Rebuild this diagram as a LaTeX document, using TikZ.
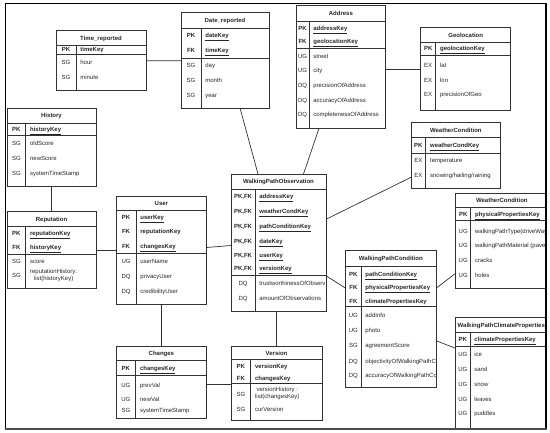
\documentclass[tikz,border=0pt]{standalone}
\usepackage{fontspec}
\setmainfont{Liberation Sans}
\usepackage{tikz}
\usetikzlibrary{calc,fit}
\tikzset{
  tbl/.style   ={draw=black!80,line width=0.7pt,inner sep=0pt,outer sep=0pt},
  sep/.style   ={draw=black!80,line width=0.7pt},
  rel/.style   ={draw=black!80,line width=0.7pt},
  hd/.style    ={inner sep=0pt,text height=4.4pt,text depth=0pt,text=black!85,font=\fontsize{6}{7}\selectfont\bfseries},
  lab/.style   ={inner sep=0pt,text height=4.4pt,text depth=0pt,text=black!85,font=\fontsize{6}{7}\selectfont},
  keylab/.style={lab,font=\fontsize{6}{7}\selectfont\bfseries},
  att/.style   ={lab,anchor=west},
  key/.style   ={keylab,anchor=west},
  att2/.style  ={inner sep=0pt,anchor=west,align=center,text=black!85,font=\fontsize{6}{7.6}\selectfont},
  frame/.style ={draw=black,line width=1pt},
}
\begin{document}
\begin{tikzpicture}[x=1pt,y=-1pt]
  \useasboundingbox (0,0) rectangle (550,433);
  \begin{scope}
  \clip (5,4) rectangle (546,429);
  % Time_reported
  \node[tbl,fit={(56,30.7) (146,90.7)}] (time) {};
  \draw[sep] (56,45) -- (146,45) (56,54) -- (146,54) (76,45) -- (76,90.7);
  \node[hd] (time-h) at (101,37.85) {Time\_reported};
  \node[keylab] (time-k1) at (66,49.6) {PK};
  \node[key] (time-a1) at (80.2,49.6) {\underline{timeKey}};
  \foreach \k/\a/\y [count=\i] in {SG/hour/62.3,SG/minute/77.7}{
    \node[lab] (time-l\i) at (66,\y) {\k};
    \node[att] (time-b\i) at (80.2,\y) {\a};
  }
  % Date_reported
  \node[tbl,fit={(181,12.7) (269,108)}] (date) {};
  \draw[sep] (181,28) -- (269,28) (181,58) -- (269,58) (201,28) -- (201,108);
  \node[hd] (date-h) at (225,20.35) {Date\_reported};
  \foreach \k/\a/\y [count=\i] in {PK/dateKey/35.6,FK/timeKey/50.6}{
    \node[keylab] (date-k\i) at (191,\y) {\k};
    \node[key] (date-a\i) at (205.2,\y) {\underline{\a}};
  }
  \foreach \k/\a/\y [count=\i] in {SG/day/65.7,SG/month/80.7,SG/year/95.7}{
    \node[lab] (date-l\i) at (191,\y) {\k};
    \node[att] (date-b\i) at (205.2,\y) {\a};
  }
  % Address
  \node[tbl,fit={(296,5.5) (385.7,128.3)}] (addr) {};
  \draw[sep] (296,21.7) -- (385.7,21.7) (296,48.3) -- (385.7,48.3) (309,21.7) -- (309,128.3);
  \node[hd] (addr-h) at (340.85,13.6) {Address};
  \foreach \k/\a/\y [count=\i] in {PK/addressKey/28,FK/geolocationKey/41.3}{
    \node[keylab] (addr-k\i) at (302.5,\y) {\k};
    \node[key] (addr-a\i) at (313.2,\y) {\underline{\a}};
  }
  \foreach \k/\a/\y [count=\i] in {UG/street/56,UG/city/70.7,DQ/precisionOfAddress/85.3,
      DQ/accuracyOfAddress/100,DQ/completenessOfAddress/114.3}{
    \node[lab] (addr-l\i) at (302.5,\y) {\k};
    \node[att] (addr-b\i) at (313.2,\y) {\a};
  }
  % Geolocation
  \node[tbl,fit={(420.7,27.7) (510.7,110)}] (geo) {};
  \draw[sep] (420.7,42.3) -- (510.7,42.3) (420.7,55) -- (510.7,55) (435.7,42.3) -- (435.7,110);
  \node[hd] (geo-h) at (465.7,35) {Geolocation};
  \node[keylab] (geo-k1) at (428.2,48.7) {PK};
  \node[key] (geo-a1) at (439.9,48.7) {\underline{geolocationKey}};
  \foreach \k/\a/\y [count=\i] in {EX/lat/65.7,EX/lon/80,EX/precisionOfGeo/94.3}{
    \node[lab] (geo-l\i) at (428.2,\y) {\k};
    \node[att] (geo-b\i) at (439.9,\y) {\a};
  }
  % History
  \node[tbl,fit={(7,108.3) (96,186)}] (hist) {};
  \draw[sep] (7,123.3) -- (96,123.3) (7,135.7) -- (96,135.7) (25.7,123.3) -- (25.7,186);
  \node[hd] (hist-h) at (51.5,115.8) {History};
  \node[keylab] (hist-k1) at (16.35,129.5) {PK};
  \node[key] (hist-a1) at (29.9,129.5) {\underline{historyKey}};
  \foreach \k/\a/\y [count=\i] in {SG/oldScore/143.7,SG/newScore/158.7,SG/systemTimeStamp/173.3}{
    \node[lab] (hist-l\i) at (16.35,\y) {\k};
    \node[att] (hist-b\i) at (29.9,\y) {\a};
  }
  % Reputation
  \node[tbl,fit={(7,211.7) (96,288.3)}] (rep) {};
  \draw[sep] (7,226.7) -- (96,226.7) (7,254.3) -- (96,254.3) (25.7,226.7) -- (25.7,288.3);
  \node[hd] (rep-h) at (51.5,219.2) {Reputation};
  \foreach \k/\a/\y [count=\i] in {PK/reputationKey/233.5,FK/historyKey/247.3}{
    \node[keylab] (rep-k\i) at (16.35,\y) {\k};
    \node[key] (rep-a\i) at (29.9,\y) {\underline{\a}};
  }
  \node[lab] (rep-l1) at (16.35,261.7) {SG};
  \node[att] (rep-b1) at (29.9,261.7) {score};
  \node[lab] (rep-l2) at (16.35,275.7) {SG};
  \node[att2] (rep-b2) at (29.9,275.4) {reputationHistory:\\list(historyKey)};
  % User
  \node[tbl,fit={(116,196) (206.7,304)}] (user) {};
  \draw[sep] (116,210.7) -- (206.7,210.7) (116,253.3) -- (206.7,253.3) (136,210.7) -- (136,304);
  \node[hd] (user-h) at (161.35,203.35) {User};
  \node[keylab] (user-k1) at (126,217.7) {PK};
  \node[key] (user-a1) at (140.2,217.7) {\underline{userKey}};
  \node[keylab] (user-k2) at (126,231.5) {FK};
  \node[key] (user-a2) at (140.2,231.5) {reputationKey};
  \node[keylab] (user-k3) at (126,246) {FK};
  \node[key] (user-a3) at (140.2,246) {\underline{changesKey}};
  \foreach \k/\a/\y [count=\i] in {UG/userName/261,DQ/privacyUser/276,DQ/credibilityUser/291}{
    \node[lab] (user-l\i) at (126,\y) {\k};
    \node[att] (user-b\i) at (140.2,\y) {\a};
  }
  % WalkingPathObservation
  \node[tbl,fit={(231,174) (326,311)}] (obs) {};
  \draw[sep] (231,189.3) -- (326,189.3) (231,275.7) -- (326,275.7) (255,189.3) -- (255,311);
  \node[hd] (obs-h) at (278.5,181.65) {WalkingPathObservation};
  \foreach \a/\y [count=\i] in {addressKey/196.7,weatherCondKey/211.7,pathConditionKey/226.7,
      dateKey/241.5,userKey/255,versionKey/268.7}{
    \node[keylab] (obs-k\i) at (243,\y) {PK,FK};
    \node[key] (obs-a\i) at (259.2,\y) {\underline{\a}};
  }
  \begin{scope}
    \clip (231,275) rectangle (325.6,311);
    \foreach \k/\a/\y [count=\i] in {DQ/trustworthinessOfObserv/283.7,DQ/amountOfObservations/298.3}{
      \node[lab] (obs-l\i) at (243,\y) {\k};
      \node[att] (obs-b\i) at (259.2,\y) {\a};
    }
  \end{scope}
  % Changes
  \node[tbl,fit={(116,346.7) (206.7,418.3)}] (chg) {};
  \draw[sep] (116,360.7) -- (206.7,360.7) (116,375.7) -- (206.7,375.7) (135.7,360.7) -- (135.7,418.3);
  \node[hd] (chg-h) at (161.35,353.7) {Changes};
  \node[keylab] (chg-k1) at (125.85,368.2) {PK};
  \node[key] (chg-a1) at (139.9,368.2) {\underline{changesKey}};
  \foreach \k/\a/\y [count=\i] in {UG/prevVal/385,UG/newVal/399,SG/systemTimeStamp/410}{
    \node[lab] (chg-l\i) at (125.85,\y) {\k};
    \node[att] (chg-b\i) at (139.9,\y) {\a};
  }
  % Version
  \node[tbl,fit={(231,346.7) (322,420)}] (ver) {};
  \draw[sep] (231,359) -- (322,359) (231,383.3) -- (322,383.3) (250.7,359) -- (250.7,420);
  \node[hd] (ver-h) at (276.5,352.85) {Version};
  \node[keylab] (ver-k1) at (240.85,366.4) {PK};
  \node[key] (ver-a1) at (254.9,366.4) {versionKey};
  \node[keylab] (ver-k2) at (240.85,378.6) {FK};
  \node[key] (ver-a2) at (254.9,378.6) {\underline{changesKey}};
  \node[lab] (ver-l1) at (240.85,394.6) {SG};
  \node[att2] (ver-b1) at (254.9,393.6) {versionHistory :\\list(changesKey)};
  \node[lab] (ver-l2) at (240.85,409.3) {SG};
  \node[att] (ver-b2) at (254.9,409.3) {curVersion};
  % WeatherCondition
  \node[tbl,fit={(411,122.7) (500.7,188.3)}] (wc) {};
  \draw[sep] (411,137.3) -- (500.7,137.3) (411,153.3) -- (500.7,153.3) (425.7,137.3) -- (425.7,188.3);
  \node[hd] (wc-h) at (455.85,130) {WeatherCondition};
  \node[keylab] (wc-k1) at (418.35,145.5) {PK};
  \node[key] (wc-a1) at (429.9,145.5) {\underline{weatherCondKey}};
  \foreach \k/\a/\y [count=\i] in {EX/temperature/160.7,EX/{snowing/hailing/raining}/175.7}{
    \node[lab] (wc-l\i) at (418.35,\y) {\k};
    \node[att] (wc-b\i) at (429.9,\y) {\a};
  }
  % WeatherCondition (physical properties)
  \node[tbl,fit={(455.7,193.3) (548,288.3)}] (phys) {};
  \draw[sep] (455.7,207.3) -- (548,207.3) (455.7,220.7) -- (548,220.7) (470.7,207.3) -- (470.7,288.3);
  \node[hd] (phys-h) at (501.85,200.3) {WeatherCondition};
  \node[keylab] (phys-k1) at (463.2,214.2) {PK};
  \node[key] (phys-a1) at (474.9,214.2) {\underline{physicalPropertiesKey}};
  \foreach \k/\a/\y [count=\i] in {UG/{walkingPathType(driveWay}/231,UG/{walkingPathMaterial (pave}/245.7,
      UG/cracks/260.7,UG/holes/275}{
    \node[lab] (phys-l\i) at (463.2,\y) {\k};
    \node[att] (phys-b\i) at (474.9,\y) {\a};
  }
  % WalkingPathClimateProperties
  \node[tbl,fit={(455.7,317.3) (548,432)}] (clim) {};
  \draw[sep] (455.7,332.7) -- (548,332.7) (455.7,346) -- (548,346) (470,332.7) -- (470,432);
  \node[hd] (clim-h) at (501.3,325) {WalkingPathClimateProperties};
  \node[keylab] (clim-k1) at (462.85,339.3) {PK};
  \node[key] (clim-a1) at (474.2,339.3) {\underline{climatePropertiesKey}};
  \foreach \a/\y [count=\i] in {ice/354,sand/369,snow/384,leaves/399,puddles/413.7}{
    \node[lab] (clim-l\i) at (462.85,\y) {UG};
    \node[att] (clim-b\i) at (474.2,\y) {\a};
  }
  % WalkingPathCondition
  \node[tbl,fit={(345.7,250.7) (436,387.3)}] (cond) {};
  \draw[sep] (345.7,266.7) -- (436,266.7) (345.7,306.7) -- (436,306.7) (361,266.7) -- (361,387.3);
  \node[hd] (cond-h) at (390.85,258.7) {WalkingPathCondition};
  \foreach \k/\a/\y [count=\i] in {PK/pathConditionKey/274,FK/physicalPropertiesKey/287.7,
      FK/climatePropertiesKey/301}{
    \node[keylab] (cond-k\i) at (353.35,\y) {\k};
    \node[key] (cond-a\i) at (365.2,\y) {\underline{\a}};
  }
  \begin{scope}
    \clip (345.7,306) rectangle (435.6,387.3);
    \foreach \k/\a/\y [count=\i] in {UG/addInfo/315.7,UG/photo/330,SG/agreementScore/345,
        DQ/objectivityOfWalkingPathC/361,DQ/accuracyOfWalkingPathCo/375.7}{
      \node[lab] (cond-l\i) at (353.35,\y) {\k};
      \node[att] (cond-b\i) at (365.2,\y) {\a};
    }
  \end{scope}
  % relations
  \draw[rel] ($(time.north east)+(0,30)$) -- ($(date.north west)+(0,48)$);
  \draw[rel] ($(date.south west)+(59,0)$) -- ($(obs.north west)+(27,0)$);
  \draw[rel] ($(addr.south west)+(23,0)$) -- ($(obs.north west)+(72.5,0)$);
  \draw[rel] ($(addr.north east)+(0,63.5)$) -- ($(geo.north west)+(0,41.3)$);
  \draw[rel] ($(hist.south west)+(44,0)$) -- ($(rep.north west)+(44,0)$);
  \draw[rel] ($(rep.north east)+(0,39)$) -- ($(user.north west)+(0,54.7)$);
  \draw[rel] ($(user.north east)+(0,51.5)$) -- ($(obs.north west)+(0,71.5)$);
  \draw[rel] ($(user.south west)+(45,0)$) -- ($(chg.north west)+(45,0)$);
  \draw[rel] ($(chg.north east)+(0,37.3)$) -- ($(ver.north west)+(0,37.3)$);
  \draw[rel] ($(obs.south west)+(45.7,0)$) -- ($(ver.north west)+(45.7,0)$);
  \draw[rel] ($(obs.north east)+(0,45.3)$) -- ($(wc.north west)+(0,54.6)$);
  \draw[rel] ($(obs.north east)+(0,101.7)$) -- ($(cond.north west)+(0,37.6)$);
  \draw[rel] ($(cond.north east)+(0,37.6)$) -- ($(phys.north west)+(0,80)$);
  \draw[rel] ($(cond.north east)+(0,90)$) -- ($(clim.north west)+(0,31)$);
  \end{scope}
  % frame
  \draw[frame] (5,4) rectangle (546,429);
  \draw[line width=2.6pt] (546,4) -- (546,430.3);
  \draw[line width=2.6pt,black!70] (4.5,429) -- (547.3,429);
\end{tikzpicture}
\end{document}
